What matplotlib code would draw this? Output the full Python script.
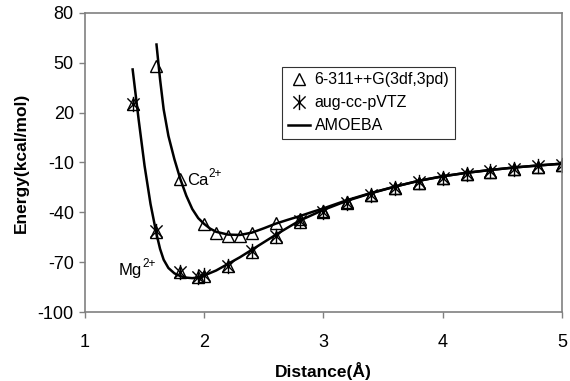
import matplotlib
matplotlib.use("Agg")
import matplotlib.pyplot as plt
from matplotlib.path import Path
from matplotlib.lines import Line2D

plt.rcParams['font.family'] = ['Liberation Sans', 'DejaVu Sans']
plt.rcParams['axes.unicode_minus'] = False

# Mg2+ : QM points (both basis sets)
mg_dist = [1.4, 1.6, 1.8, 1.95, 2.0, 2.2, 2.4, 2.6, 2.8, 3.0, 3.2, 3.4, 3.6,
           3.8, 4.0, 4.2, 4.4, 4.6, 4.8, 5.0]
mg_631 = [25, -52, -76, -79, -78.5, -72.3, -64, -55, -46, -40, -34.5, -29.6,
          -25.4, -22.2, -19.3, -17.1, -15.5, -14.1, -12.5, -11.5]
mg_aug = [25.5, -51.5, -76, -79, -78, -72, -63.5, -54.5, -45.5, -39.5, -34.2,
          -29.4, -25.2, -22, -19.2, -17, -15.4, -14, -12.4, -11.4]

# Ca2+ : QM points
ca_dist = [1.6, 1.8, 2.0, 2.1, 2.2, 2.3, 2.4, 2.6, 2.8, 3.0, 3.2, 3.4, 3.6,
           3.8, 4.0, 4.2, 4.4, 4.6, 4.8, 5.0]
ca_631 = [48, -20, -47, -52.3, -54.3, -54.3, -52.6, -46.5, -44, -39, -34,
          -29.5, -25.3, -22.1, -19.3, -17.1, -15.5, -14.1, -12.5, -11.5]

# AMOEBA curves
amoeba_mg_x = [1.40, 1.45, 1.50, 1.55, 1.60, 1.63, 1.66, 1.70, 1.75, 1.80,
               1.85, 1.90, 1.95, 2.0, 2.1, 2.2, 2.3, 2.4, 2.5, 2.6, 2.7, 2.8,
               3.0, 3.2, 3.4, 3.6, 3.8, 4.0, 4.2, 4.4, 4.6, 4.8, 5.0]
amoeba_mg_y = [46, 16, -12, -35, -53, -62, -68.5, -73.5, -76.7, -78.4,
               -79.3, -79.6, -79.2, -78, -75, -71, -67, -62.5, -58, -53.5,
               -49.2, -45, -38.5, -33, -28.5, -24.5, -21, -18.3, -16.2, -14.5,
               -13, -11.8, -10.7]
amoeba_ca_x = [1.60, 1.63, 1.66, 1.70, 1.75, 1.80, 1.85, 1.90, 1.95, 2.00,
               2.05, 2.10, 2.2, 2.3, 2.4, 2.5, 2.6, 2.7, 2.8, 2.9, 3.0, 3.2,
               3.4, 3.6, 3.8, 4.0, 4.2, 4.4, 4.6, 4.8, 5.0]
amoeba_ca_y = [61, 40, 22, 6, -8, -20, -30, -38, -43.5, -47,
               -49.8, -51.7, -53.4, -53.6, -52.2, -49.6, -46.8, -44.5, -42.3,
               -39.9, -37.6, -32.6, -28.3, -24.5, -21, -18.3, -16.2, -14.5,
               -13, -11.8, -10.7]

x_ticks = [1, 2, 3, 4, 5]
y_ticks = [-100, -70, -40, -10, 20, 50, 80]

# X with a vertical bar (Excel style star)
star = Path([(-1, -1), (1, 1), (-1, 1), (1, -1), (0, -1.25), (0, 1.25)],
            [Path.MOVETO, Path.LINETO, Path.MOVETO, Path.LINETO,
             Path.MOVETO, Path.LINETO])

fig = plt.figure(figsize=(5.7, 3.81), dpi=100)
ax = fig.add_axes([0.149, 0.181, 0.837, 0.785])

tri_kw = dict(ls='none', marker='^', ms=8, mfc='none', mec='black', mew=1)
star_kw = dict(ls='none', marker=star, ms=11, mec='black', mew=1)

ax.plot(amoeba_mg_x, amoeba_mg_y, color='black', lw=1.8)
ax.plot(amoeba_ca_x, amoeba_ca_y, color='black', lw=1.8)
ax.plot(mg_dist, mg_631, **tri_kw)
ax.plot(mg_dist, mg_aug, **star_kw)
ax.plot(ca_dist, ca_631, **tri_kw)

# ion labels with superscript charge
for name, xy in [('Ca', (1.86, -23.5)), ('Mg', (1.285, -77.5))]:
    t = ax.text(xy[0], xy[1], name, fontsize=12)
    ax.annotate('2+', xy=(1, 0.5), xycoords=t, fontsize=8.5, va='bottom')

ax.set_xlim(1, 5)
ax.set_ylim(-100, 80)
ax.set_xticks(x_ticks)
ax.set_yticks(y_ticks)
ax.tick_params(direction='out', length=4, width=1, color='#808080',
               labelsize=13)
ax.tick_params(axis='x', pad=12)
ax.tick_params(axis='y', pad=4)
for s in ax.spines.values():
    s.set_color('#808080')
    s.set_linewidth(1.2)

ax.set_xlabel('Distance(Å)', fontsize=12.5, fontweight='bold', labelpad=8)
ax.set_ylabel('Energy(kcal/mol)', fontsize=12.5, fontweight='bold', labelpad=6)

handles = [Line2D([], [], **tri_kw), Line2D([], [], **star_kw),
           Line2D([], [], color='black', lw=1.8)]
labels = ['6-311++G(3df,3pd)', 'aug-cc-pVTZ', 'AMOEBA']
leg = ax.legend(handles, labels, loc='upper left', bbox_to_anchor=(0.413, 0.82),
                fontsize=11.5, frameon=True, fancybox=False, handlelength=1.4,
                handletextpad=0.3, borderpad=0.35, labelspacing=0.5,
                borderaxespad=0)
leg.get_frame().set_edgecolor('black')
leg.get_frame().set_linewidth(0.8)

fig.savefig('out.png', dpi=100)
